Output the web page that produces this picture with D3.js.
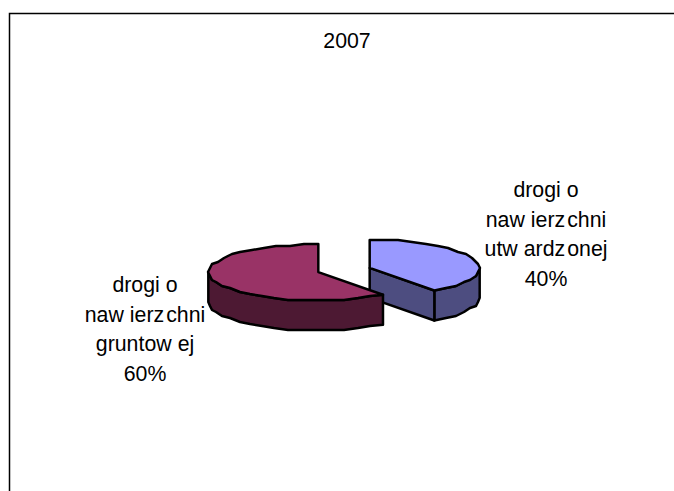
<!DOCTYPE html>
<html>
<head>
<meta charset="utf-8">
<script src="https://cdn.jsdelivr.net/npm/d3@7"></script>
<style>
html, body { margin: 0; padding: 0; background: #fff; }
svg { display: block; }
text { font-family: "Liberation Sans", Arial, sans-serif; font-size: 21.3px; fill: #000; }
</style>
</head>
<body>
<div id="chart"></div>
<script>
// chart data
var title = "2007";
var categories = ["drogi o nawierzchni utwardzonej", "drogi o nawierzchni gruntowej"];
var values = [40, 60];
var labelLines = [
    ["drogi o", "nawierzchni", "utwardzonej", "40%"],
    ["drogi o", "nawierzchni", "gruntowej", "60%"]
];

var width = 674, height = 491;
var cx = 344, cy = 270;      // pie centre
var rx = 110, ry = 28;       // ellipse radii of the flattened pie
var depth = 30;
var explode = 27;
var topColors = ["#9999ff", "#993366"];
var sideColors = ["#4d4d80", "#4d1933"];
var labelPos = [{x: 546, y: 197}, {x: 145, y: 292}];

var svg = d3.select("#chart").append("svg")
    .attr("width", width)
    .attr("height", height);

// frame: only top and left edges show up
svg.append("path")
    .attr("d", d3.line()([[9.5, height], [9.5, 13.5], [width, 13.5]]))
    .attr("fill", "none")
    .attr("stroke", "#000")
    .attr("stroke-width", 1.5);

svg.append("text")
    .attr("x", 347)
    .attr("y", 48)
    .attr("text-anchor", "middle")
    .text(title);

var pie = d3.pie().sort(null).value(function(d) { return d; });
var arcs = pie(values);
var line = d3.line();

// point on the pie ellipse for a clockwise angle from 12 o'clock
function pt(a, ox, oy) {
    return [ox + rx * Math.sin(a), oy - ry * Math.cos(a)];
}

// sampled rim between two angles, snapped to a small grid like the
// low resolution outline of the original
function rim(a0, a1, ox, oy) {
    var n = Math.max(2, Math.round(Math.abs(a1 - a0) / 0.13));
    return d3.range(n + 1).map(function(i) {
        var p = pt(a0 + (a1 - a0) * i / n, ox, oy);
        if (i == 0 || i == n) return p;
        return [Math.round(p[0] / 2) * 2, Math.round(p[1] / 2) * 2];
    });
}

// the original renderer leaves gaps after w and z
function letterGaps(s) {
    return s.split("").map(function(c, k) {
        var prev = s[k - 1];
        if (prev == "w") return 6;
        if (prev == "z") return 2;
        return 0;
    }).join(" ");
}

arcs.forEach(function(d, i) {
    var mid = (d.startAngle + d.endAngle) / 2;
    var ox = cx + explode * Math.sin(mid);
    var oy = cy - explode * Math.cos(mid) * ry / rx;
    var g = svg.append("g")
        .attr("stroke", "#000")
        .attr("stroke-width", 2.5)
        .attr("stroke-linejoin", "round");

    // outer wall, only where the rim faces the viewer
    var a0 = Math.max(d.startAngle, Math.PI / 2);
    var a1 = Math.min(d.endAngle, Math.PI * 3 / 2);
    var front = rim(a0, a1, ox, oy);
    var back = front.map(function(p) { return [p[0], p[1] + depth]; }).reverse();
    g.append("path")
        .attr("d", line(front.concat(back)) + "Z")
        .attr("fill", sideColors[i]);

    // cut face of the slice that ends in front
    if (d.endAngle < Math.PI * 3 / 2) {
        var e = pt(d.endAngle, ox, oy);
        g.append("path")
            .attr("d", line([[ox, oy], e, [e[0], e[1] + depth], [ox, oy + depth]]) + "Z")
            .attr("fill", sideColors[i]);
    }

    // top face
    g.append("path")
        .attr("d", line([[ox, oy]].concat(rim(d.startAngle, d.endAngle, ox, oy))) + "Z")
        .attr("fill", topColors[i]);

    // label
    var t = svg.append("text")
        .attr("text-anchor", "middle");
    labelLines[i].forEach(function(s, j) {
        t.append("tspan")
            .attr("x", labelPos[i].x)
            .attr("y", labelPos[i].y + j * 29.6)
            .attr("dx", letterGaps(s))
            .text(s);
    });
});
</script>
</body>
</html>
